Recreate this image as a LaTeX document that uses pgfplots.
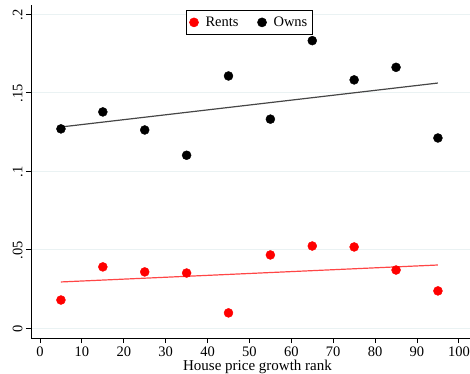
\documentclass[border=0pt]{standalone}
\usepackage{pgfplots}
\pgfplotsset{compat=1.18}
\usepackage{fontspec}
\setmainfont{Liberation Serif}
\definecolor{gridc}{RGB}{234,242,243}
\definecolor{fitred}{RGB}{255,70,70}
\definecolor{fitgray}{RGB}{70,70,70}
\begin{document}
\begin{tikzpicture}
\begin{axis}[
  scale only axis,
  width=453pt, height=333pt,
  xmin=-2.15, xmax=106,
  ymin=-0.0064, ymax=0.2057,
  axis x line*=bottom, axis y line*=left,
  axis line style={black, line width=0.8pt},
  xtick={0,10,...,100},
  ytick={0,0.05,0.1,0.15,0.2},
  yticklabels={0,.05,.1,.15,.2},
  tick align=outside,
  tick style={black, line width=0.8pt},
  major tick length=5pt,
  ymajorgrids, grid style={gridc, line width=0.8pt},
  yticklabel style={rotate=90, anchor=south, xshift=-1pt},
  tick label style={font=\fontsize{14.5}{16}\selectfont},
  /pgf/number format/assume math mode=true,
  xlabel={House price growth rank},
  xlabel style={font=\fontsize{15}{17}\selectfont, yshift=3.5pt},
  legend style={at={(axis cs:50,0.2025)}, anchor=north, draw=black, line width=0.6pt,
    font=\fontsize{14.5}{16}\selectfont, column sep=5pt,
    nodes={inner ysep=4.5pt},
    /tikz/every even column/.append style={column sep=17pt}},
  legend columns=2,
  legend cell align=left,
]
\coordinate (bl) at (rel axis cs:0,0);
\addplot[only marks, mark=*, mark size=4.5pt, color=red] coordinates {
(5,0.0178) (15,0.0389) (25,0.0357) (35,0.0350) (45,0.0096)
(55,0.0465) (65,0.0522) (75,0.0516) (85,0.0369) (95,0.0236)};
\addlegendentry{Rents}
\addplot[only marks, mark=*, mark size=4.5pt, color=black] coordinates {
(5,0.1268) (15,0.1376) (25,0.1261) (35,0.1100) (45,0.1605)
(55,0.1330) (65,0.1830) (75,0.1580) (85,0.1660) (95,0.1210)};
\addlegendentry{Owns}
\addplot[fitred, line width=1.2pt, forget plot] coordinates {(5,0.0293) (95,0.0401)};
\addplot[fitgray, line width=1.2pt, forget plot] coordinates {(5,0.1280) (95,0.1560)};
\end{axis}
\pgfresetboundingbox
\path ([shift={(-31pt,-35pt)}]bl) rectangle ([shift={(439pt,338pt)}]bl);
\end{tikzpicture}
\end{document}
